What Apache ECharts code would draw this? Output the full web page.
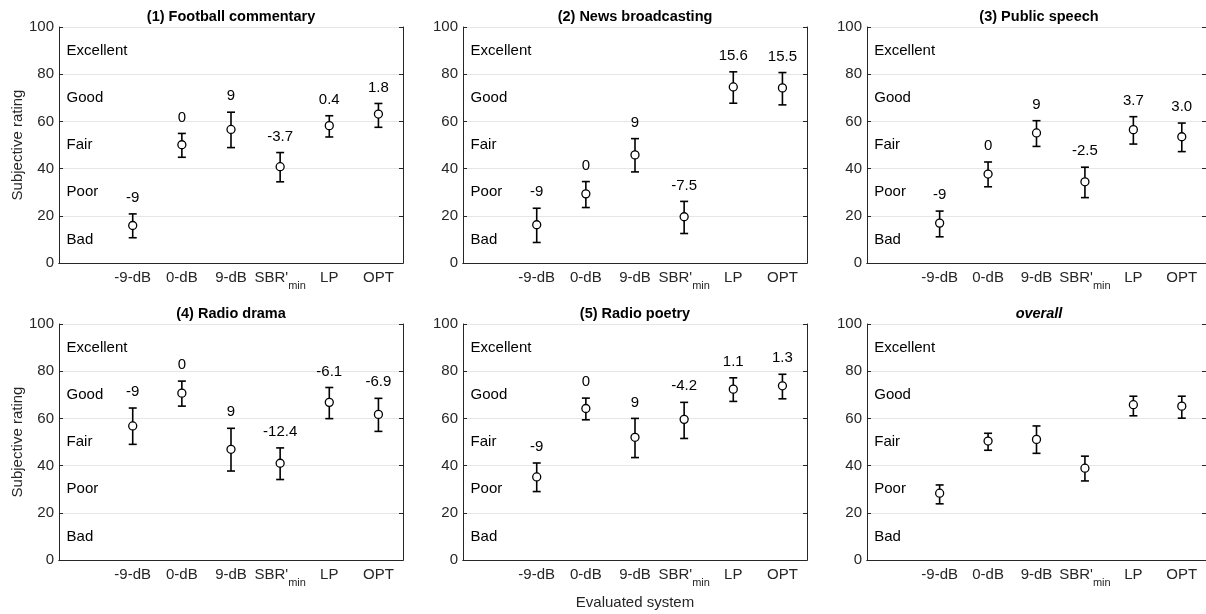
<!DOCTYPE html>
<html>
<head>
<meta charset="utf-8">
<script src="https://cdn.jsdelivr.net/npm/echarts@6/dist/echarts.min.js"></script>
<style>
  html, body { margin: 0; padding: 0; background: #fff; }
  #chart { width: 1206px; height: 614px; }
</style>
</head>
<body>
<div id="chart"></div>
<script>
// 数据：类别、评分文字、各子图的均值 / 误差线上下限 / 标注
const categories = ['', '-9-dB', '0-dB', '9-dB', 'SBR', 'LP', 'OPT'];
const ratingLabels = ['Excellent', 'Good', 'Fair', 'Poor', 'Bad'];
const ratingValues = [90, 70, 50, 30, 10];
const panelTitles = ['(1) Football commentary', '(2) News broadcasting', '(3) Public speech',
  '(4) Radio drama', '(5) Radio poetry', 'overall'];

const means1 = [15.9, 50.1, 56.6, 40.8, 58.2, 63.1];
const lower1 = [10.7, 44.8, 48.9, 34.4, 53.4, 57.5];
const upper1 = [20.8, 54.9, 63.9, 46.8, 62.4, 67.6];
const notes1 = ['-9', '0', '9', '-3.7', '0.4', '1.8'];

const means2 = [16.2, 29.3, 45.8, 19.6, 74.6, 74.2];
const lower2 = [8.7, 23.5, 38.6, 12.5, 67.7, 67.0];
const upper2 = [23.2, 34.5, 52.7, 26.1, 81.0, 80.7];
const notes2 = ['-9', '0', '9', '-7.5', '15.6', '15.5'];

const means3 = [16.9, 37.7, 55.1, 34.4, 56.5, 53.5];
const lower3 = [11.1, 32.3, 49.4, 27.7, 50.4, 47.2];
const upper3 = [22.0, 42.8, 60.3, 40.6, 62.0, 59.3];
const notes3 = ['-9', '0', '9', '-2.5', '3.7', '3.0'];

const means4 = [56.8, 70.7, 46.9, 41.0, 66.8, 61.7];
const lower4 = [49.0, 65.2, 37.7, 34.1, 59.9, 54.5];
const upper4 = [64.4, 75.8, 55.8, 47.5, 73.1, 68.5];
const notes4 = ['-9', '0', '9', '-12.4', '-6.1', '-6.9'];

const means5 = [35.2, 64.2, 52.0, 59.6, 72.4, 73.8];
const lower5 = [29.0, 59.4, 43.4, 51.5, 67.2, 68.3];
const upper5 = [41.1, 68.6, 60.0, 66.8, 77.2, 78.7];
const notes5 = ['-9', '0', '9', '-4.2', '1.1', '1.3'];

const means6 = [28.3, 50.4, 51.1, 38.9, 65.8, 65.2];
const lower6 = [23.8, 46.5, 45.2, 33.5, 61.1, 60.1];
const upper6 = [31.8, 53.7, 56.8, 44.0, 69.4, 69.4];
const notes6 = ['', '', '', '', '', ''];

const panels = [
  { means: means1, lower: lower1, upper: upper1, notes: notes1 },
  { means: means2, lower: lower2, upper: upper2, notes: notes2 },
  { means: means3, lower: lower3, upper: upper3, notes: notes3 },
  { means: means4, lower: lower4, upper: upper4, notes: notes4 },
  { means: means5, lower: lower5, upper: upper5, notes: notes5 },
  { means: means6, lower: lower6, upper: upper6, notes: notes6 }
];

var myChart = echarts.init(document.getElementById('chart'));
const FONT = 'Liberation Sans, Arial, Helvetica, sans-serif';
const FS = 15;
const AXIS_COLOR = '#262626';
const lefts = [59, 463, 867];
const tops = [27, 324];
const W = 344, H = 236;

var grids = [], xAxes = [], yAxes = [], series = [], titles = [];

panels.forEach(function (p, i) {
  var col = i % 3, row = Math.floor(i / 3);
  grids.push({ left: lefts[col], top: tops[row], width: W, height: H, containLabel: false });

  titles.push({
    text: panelTitles[i],
    left: lefts[col] + W / 2,
    top: tops[row] - 18,
    textAlign: 'center',
    padding: 0,
    textStyle: { fontFamily: FONT, fontSize: 14.5, fontWeight: 'bold',
      fontStyle: i === 5 ? 'italic' : 'normal', color: '#000' }
  });

  // 底部 x 轴
  xAxes.push({
    type: 'category', gridIndex: i, data: categories, position: 'bottom',
    boundaryGap: true,
    axisLine: { lineStyle: { color: AXIS_COLOR, width: 1 } },
    axisTick: { inside: true, length: 4, alignWithLabel: true,
      interval: function (idx) { return idx > 0; },
      lineStyle: { color: AXIS_COLOR } },
    axisLabel: {
      interval: 0, margin: 7, color: AXIS_COLOR, fontFamily: FONT, fontSize: FS,
      formatter: function (v) { return v === 'SBR' ? "{b|SBR'}{sub|min}" : v; },
      rich: {
        b: { fontFamily: FONT, fontSize: FS, color: AXIS_COLOR, verticalAlign: 'top' },
        sub: { fontFamily: FONT, fontSize: 11, color: AXIS_COLOR, verticalAlign: 'top',
          padding: [10, 0, 0, 0] }
      }
    },
    splitLine: { show: false },
    name: i === 4 ? 'Evaluated system' : '',
    nameLocation: 'middle', nameGap: 35,
    nameTextStyle: { fontFamily: FONT, fontSize: FS, color: AXIS_COLOR }
  });
  // 顶部 x 轴（边框）
  xAxes.push({
    type: 'category', gridIndex: i, data: categories, position: 'top',
    boundaryGap: true,
    axisLine: { lineStyle: { color: AXIS_COLOR, width: 1 } },
    axisTick: { inside: true, length: 4, alignWithLabel: true, interval: 0,
      lineStyle: { color: AXIS_COLOR } },
    axisLabel: { show: false },
    splitLine: { show: false }
  });

  yAxes.push({
    type: 'value', gridIndex: i, min: 0, max: 100, interval: 20, position: 'left',
    axisLine: { show: true, lineStyle: { color: AXIS_COLOR, width: 1 } },
    axisTick: { show: true, inside: true, length: 4, lineStyle: { color: AXIS_COLOR } },
    axisLabel: { margin: 5, color: AXIS_COLOR, fontFamily: FONT, fontSize: FS },
    splitLine: { show: true, lineStyle: { color: '#e6e6e6', width: 1 } },
    name: col === 0 ? 'Subjective rating' : '',
    nameLocation: 'middle', nameGap: 34,
    nameTextStyle: { fontFamily: FONT, fontSize: FS, color: AXIS_COLOR }
  });
  yAxes.push({
    type: 'value', gridIndex: i, min: 0, max: 100, interval: 20, position: 'right',
    axisLine: { show: true, lineStyle: { color: AXIS_COLOR, width: 1 } },
    axisTick: { show: true, inside: true, length: 4, lineStyle: { color: AXIS_COLOR } },
    axisLabel: { show: false },
    splitLine: { show: false }
  });

  // 评分等级文字
  series.push({
    type: 'custom', xAxisIndex: 2 * i, yAxisIndex: 2 * i, silent: true,
    data: ratingValues.map(function (v) { return [0, v]; }),
    renderItem: function (params, api) {
      var pt = api.coord([api.value(0), api.value(1)]);
      return {
        type: 'text', x: pt[0] - 17, y: pt[1],
        style: { text: ratingLabels[params.dataIndex], align: 'left', verticalAlign: 'middle',
          fontFamily: FONT, fontSize: FS, fill: '#000' }
      };
    }
  });

  // 误差线 + 圆圈 + 标注
  series.push({
    type: 'custom', xAxisIndex: 2 * i, yAxisIndex: 2 * i, silent: true,
    data: p.means.map(function (m, k) { return [k + 1, m, p.lower[k], p.upper[k]]; }),
    renderItem: function (params, api) {
      var x = api.value(0);
      var pm = api.coord([x, api.value(1)]);
      var pl = api.coord([x, api.value(2)]);
      var ph = api.coord([x, api.value(3)]);
      var cap = 4;
      var ls = { stroke: '#000', lineWidth: 1.6 };
      var note = p.notes[params.dataIndex];
      return {
        type: 'group',
        children: [
          { type: 'line', shape: { x1: pm[0], y1: pl[1], x2: pm[0], y2: ph[1] }, style: ls },
          { type: 'line', shape: { x1: pm[0] - cap, y1: pl[1], x2: pm[0] + cap, y2: pl[1] }, style: ls },
          { type: 'line', shape: { x1: pm[0] - cap, y1: ph[1], x2: pm[0] + cap, y2: ph[1] }, style: ls },
          { type: 'circle', shape: { cx: pm[0], cy: pm[1], r: 4 },
            style: { fill: '#fff', stroke: '#000', lineWidth: 1.3 } },
          { type: 'text', x: pm[0], y: ph[1] - 16,
            style: { text: note, align: 'center', verticalAlign: 'middle',
              fontFamily: FONT, fontSize: FS, fill: '#000' } }
        ]
      };
    }
  });
});

var option = {
  backgroundColor: '#fff',
  animation: false,
  title: titles,
  grid: grids,
  xAxis: xAxes,
  yAxis: yAxes,
  series: series
};
myChart.setOption(option);
</script>
</body>
</html>
